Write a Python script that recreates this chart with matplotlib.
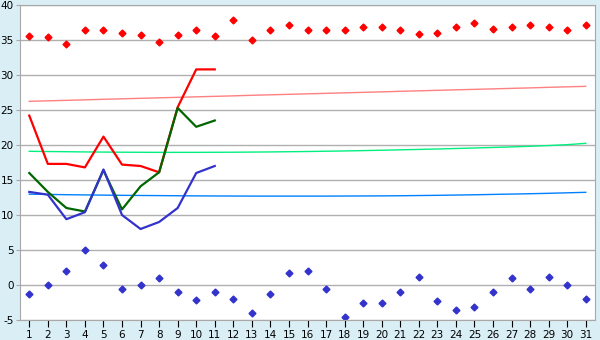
import matplotlib

matplotlib.use('agg')

import numpy as np
import matplotlib.pyplot as plt

plt.rcParams['axes.unicode_minus'] = False

days = list(range(1, 32))

# scatter series
red_points = [35.6, 35.4, 34.5, 36.4, 36.4, 36.0, 35.7, 34.7, 35.7, 36.5,
              35.6, 37.9, 35.0, 36.4, 37.2, 36.4, 36.4, 36.4, 36.8, 36.9,
              36.5, 35.8, 36.0, 36.9, 37.4, 36.6, 36.9, 37.2, 36.9, 36.5, 37.1]
blue_points = [-1.3, 0.0, 2.0, 5.0, 2.8, -0.5, 0.0, 1.0, -1.0, -2.2,
               -1.0, -2.0, -4.0, -1.3, 1.7, 2.0, -0.5, -4.5, -2.6, -2.6,
               -1.0, 1.1, -2.3, -3.5, -3.2, -1.0, 1.0, -0.5, 1.2, 0.0, -2.0]

# line series (first 11 days)
line_days = days[:11]
red_line = [24.2, 17.3, 17.3, 16.8, 21.2, 17.2, 17.0, 16.1, 25.4, 30.8, 30.8]
green_line = [16.0, 13.3, 11.0, 10.5, 16.4, 10.8, 14.1, 16.1, 25.3, 22.6, 23.5]
blue_line = [13.3, 12.9, 9.4, 10.4, 16.5, 10.0, 8.0, 9.0, 11.0, 16.0, 17.0]

# trend lines
pink_trend = [26.24, 26.31, 26.38, 26.45, 26.53, 26.6, 26.67, 26.74, 26.81, 26.88,
              26.95, 27.02, 27.1, 27.17, 27.24, 27.31, 27.38, 27.45, 27.52, 27.59,
              27.67, 27.74, 27.81, 27.88, 27.95, 28.02, 28.09, 28.16, 28.24, 28.31, 28.38]
mint_trend = [19.1, 19.07, 19.04, 19.01, 18.99, 18.97, 18.96, 18.95, 18.95, 18.95,
              18.96, 18.97, 18.99, 19.01, 19.04, 19.07, 19.11, 19.15, 19.2, 19.25,
              19.31, 19.37, 19.43, 19.5, 19.57, 19.65, 19.73, 19.82, 19.92, 20.05, 20.24]
sky_trend = [12.98, 12.94, 12.9, 12.87, 12.84, 12.81, 12.79, 12.77, 12.75, 12.73,
             12.72, 12.71, 12.7, 12.7, 12.7, 12.7, 12.7, 12.71, 12.72, 12.73,
             12.75, 12.78, 12.81, 12.85, 12.89, 12.94, 12.99, 13.04, 13.1, 13.17, 13.24]

fig = plt.figure(figsize=(6, 3.4), dpi=100, facecolor='#D9EEF5')
ax = fig.add_axes([20 / 600, 20 / 340, 575 / 600, 315 / 340])
ax.set_facecolor('white')

ax.plot(days, pink_trend, color='#FF8080', linewidth=1)
ax.plot(days, mint_trend, color='#00F080', linewidth=1)
ax.plot(days, sky_trend, color='#0080FF', linewidth=1)

ax.plot(line_days, red_line, color='#FF0000', linewidth=1.6)
ax.plot(line_days, green_line, color='#006600', linewidth=1.6)
ax.plot(line_days, blue_line, color='#3333CC', linewidth=1.6)

ax.plot(days, red_points, linestyle='none', marker='D', markersize=3.5, color='#FF0000')
ax.plot(days, blue_points, linestyle='none', marker='D', markersize=3.5, color='#3333CC')

ax.set_xlim(0.5, 31.5)
ax.set_ylim(-5, 40)
ax.set_xticks(days)
ax.set_yticks(np.arange(-5, 41, 5))
ax.yaxis.grid(True, color='#B0B0B0', linewidth=1)
ax.set_axisbelow(True)
for s in ax.spines.values():
    s.set_color('#A8A8A8')
ax.tick_params(axis='x', length=5, color='black', labelsize=7.5, pad=2)
ax.tick_params(axis='y', length=3, color='#A8A8A8', labelsize=7.5, pad=1.5, labelcolor='black')

plt.savefig('out.png', dpi=100, facecolor=fig.get_facecolor())
